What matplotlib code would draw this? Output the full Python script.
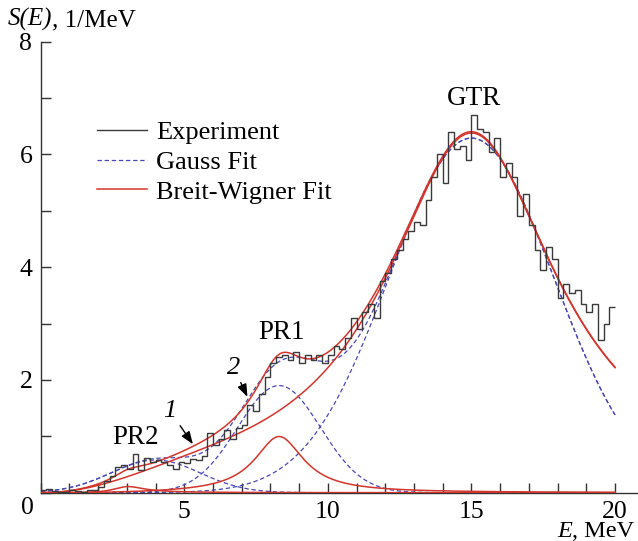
import numpy as np
import matplotlib
matplotlib.use("Agg")
import matplotlib.pyplot as plt
from matplotlib.lines import Line2D
from matplotlib.ticker import MultipleLocator

plt.rcParams["font.family"] = ["Liberation Serif", "DejaVu Serif"]

# -- Experimental strength function, 0.2 MeV bins starting at 0 --
BIN_WIDTH = 0.2
strength = [
    0.05, 0.06, 0.03, 0.02, 0.02, 0.04, 0.03, 0.02, 0.05, 0.04,
    0.10, 0.20, 0.30, 0.45, 0.50, 0.42, 0.68, 0.40, 0.62, 0.55,
    0.58, 0.55, 0.50, 0.42, 0.55, 0.52, 0.60, 0.58, 0.65, 1.05,
    0.85, 0.95, 1.12, 0.95, 1.15, 1.20, 1.55, 1.45, 1.75, 2.05,
    2.30, 2.40, 2.45, 2.35, 2.50, 2.30, 2.45, 2.35, 2.45, 2.30,
    2.45, 2.60, 2.55, 2.75, 3.10, 2.90, 3.20, 3.35, 3.10, 3.75,
    3.90, 4.15, 4.30, 4.50, 4.65, 4.80, 4.75, 5.20, 5.60, 6.00,
    5.50, 6.40, 6.10, 6.15, 5.90, 6.70, 6.45, 6.40, 6.05, 6.30,
    5.60, 5.85, 5.60, 4.90, 5.30, 4.75, 4.30, 3.95, 4.35, 4.15,
    3.45, 3.70, 3.55, 3.60, 3.35, 3.20, 3.35, 2.70, 3.00, 3.30,
]
edges = np.arange(len(strength) + 1) * BIN_WIDTH

# -- Gauss fit: PR2, PR1, GTR (centre MeV, sigma MeV, amplitude 1/MeV) --
gauss_center = [4.0, 8.3, 15.0]
gauss_sigma = [1.55, 1.45, 2.87]
gauss_amp = [0.58, 1.90, 6.29]

# -- Breit-Wigner fit: PR2, PR1, GTR (centre, half width, amplitude) --
bw_center = [2.95, 8.3, 15.0]
bw_halfwidth = [0.65, 1.04, 3.65]
bw_amp = [0.21, 1.00, 6.38]
bw_threshold = 3.5  # MeV, low-energy suppression of the BW shapes

E = np.linspace(0, 20, 801)


def gauss(e, c, s, a):
    return a * np.exp(-(e - c) ** 2 / (2 * s ** 2))


def breit_wigner(e, c, h, a):
    return a / (1 + ((e - c) / h) ** 2) * (1 - np.exp(-(e / bw_threshold) ** 2))


g_parts = [gauss(E, c, s, a) for c, s, a in zip(gauss_center, gauss_sigma, gauss_amp)]
b_parts = [breit_wigner(E, c, h, a) for c, h, a in zip(bw_center, bw_halfwidth, bw_amp)]

fig = plt.figure(figsize=(6.38, 5.41), dpi=100)
ax = fig.add_axes([0.0638, 0.0893, 0.9362, 0.8336])

blue = "#4848b4"
red = "#d2352c"
black = "#3a3a3a"
dash = (0, (3.5, 2.2))

for part in g_parts:
    ax.plot(E, part, color=blue, lw=0.9, ls=dash, zorder=2)
g_total, = ax.plot(E, sum(g_parts), color=blue, lw=0.9, ls=dash, zorder=2)
for part in b_parts:
    ax.plot(E, part, color=red, lw=1.1, zorder=3)
b_total, = ax.plot(E, sum(b_parts), color=red, lw=1.1, zorder=3)
ax.stairs(strength, edges, baseline=None, color=black, lw=1.0, zorder=4)

exp_handle = Line2D([], [], color=black, lw=1.0)
ax.legend([exp_handle, g_total, b_total],
          ["Experiment", "Gauss Fit", "Breit-Wigner Fit"],
          loc="upper left", bbox_to_anchor=(0.094, 0.825), frameon=False,
          fontsize=19, handlelength=1.9, handletextpad=0.35,
          labelspacing=0.24, borderpad=0, borderaxespad=0)

# -- peak labels and arrows --
ax.text(3.3, 0.98, "PR2", fontsize=19.5, ha="center", va="center")
ax.text(8.4, 2.84, "PR1", fontsize=19.5, ha="center", va="center")
ax.text(15.1, 7.0, "GTR", fontsize=19.5, ha="center", va="center")
arrow = dict(arrowstyle="-|>,head_length=0.4,head_width=0.15", color="black", lw=1.0,
             shrinkA=1, shrinkB=0)
ax.annotate("1", xy=(5.3, 0.86), xytext=(4.5, 1.45), fontsize=19, style="italic",
            ha="center", va="center", arrowprops=arrow)
ax.annotate("2", xy=(7.2, 1.7), xytext=(6.72, 2.22), fontsize=19, style="italic",
            ha="center", va="center", arrowprops=arrow)

ax.set_xlim(0, 20.8)
ax.set_ylim(0, 8)
ax.spines["top"].set_visible(False)
ax.spines["right"].set_visible(False)
for sp in ("left", "bottom"):
    ax.spines[sp].set_color("#333333")
    ax.spines[sp].set_linewidth(1.0)

ax.xaxis.set_major_locator(MultipleLocator(5))
ax.xaxis.set_minor_locator(MultipleLocator(1))
ax.yaxis.set_major_locator(MultipleLocator(2))
ax.yaxis.set_minor_locator(MultipleLocator(1))
ax.tick_params(which="both", direction="in", length=7, width=1.0, color="#333333",
               labelsize=18.5, pad=6)
ax.set_xticks([5, 10, 15, 20])
ax.set_yticks([2, 4, 6, 8])

W, H = fig.bbox.width, fig.bbox.height
renderer = fig.canvas.get_renderer()


def two_part_label(x_px, base_px, italic_part, rest, size):
    t = fig.text(x_px / W, 1 - base_px / H, italic_part, fontsize=size,
                 style="italic", ha="left", va="baseline")
    x1 = t.get_window_extent(renderer).x1
    fig.text(x1 / W, 1 - base_px / H, rest, fontsize=size, ha="left", va="baseline")


fig.text(27.5 / W, 1 - 508 / H, "0", fontsize=18.5, ha="center", va="center")
two_part_label(8, 26, "S(E)", ", 1/MeV", 18)
two_part_label(557, 537, "E", ", MeV", 17.5)

fig.savefig("out.png", dpi=100)
